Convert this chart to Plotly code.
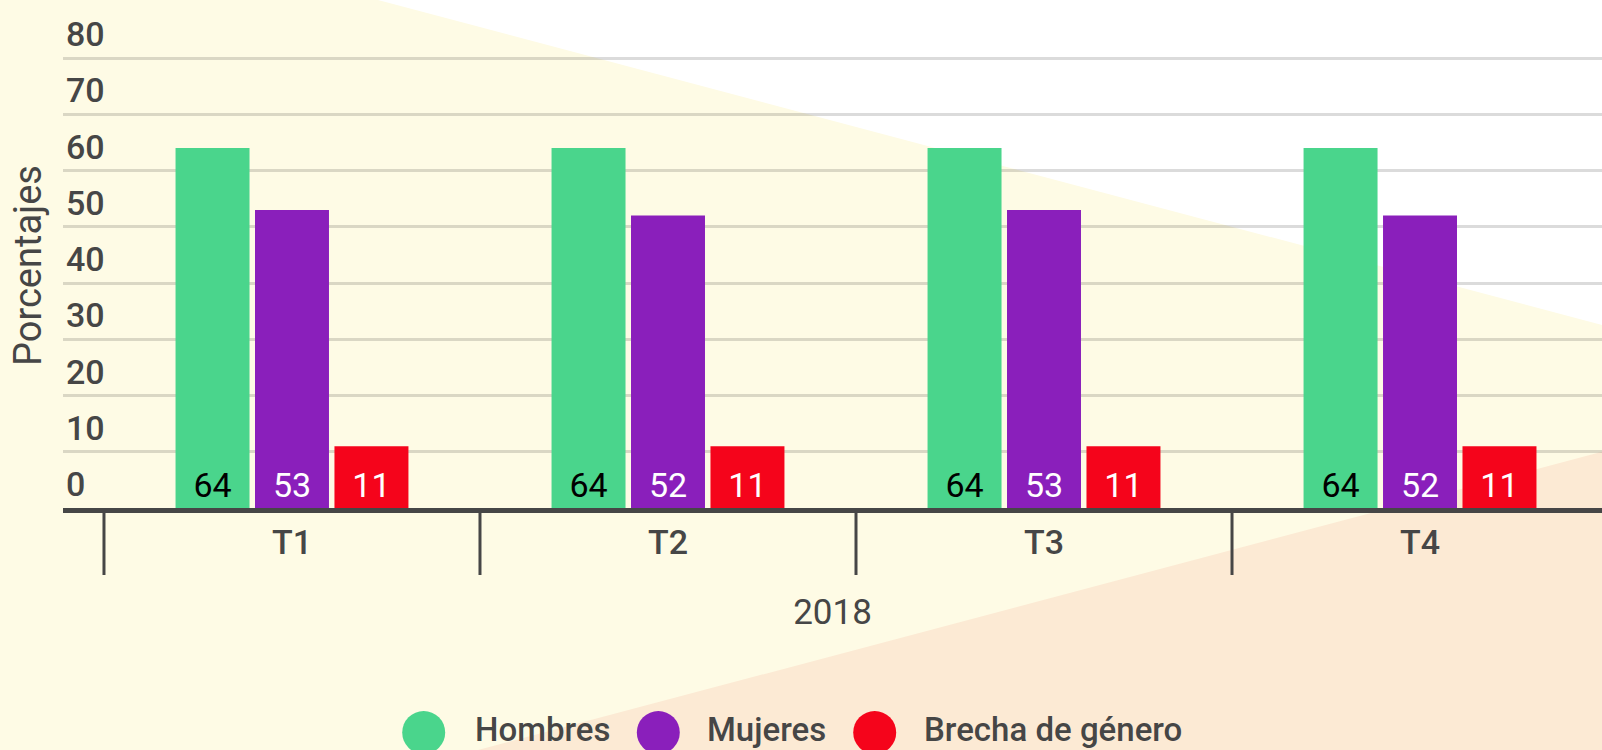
import plotly.graph_objects as go

# ---- data ----
categories = ["T1", "T2", "T3", "T4"]
year_label = "2018"
series_names = ["Hombres", "Mujeres", "Brecha de género"]
hombres = [64, 64, 64, 64]
mujeres = [53, 52, 53, 52]
brecha = [11, 11, 11, 11]
y_ticks = [0, 10, 20, 30, 40, 50, 60, 70, 80]
y_title = "Porcentajes"

# ---- styles ----
W, H = 1602, 750
colors = ["#4ad58c", "#8a1fbb", "#f5041b"]
label_colors = ["#000000", "#ffffff", "#ffffff"]
txt = "#464646"
bg_yellow = "#fefbe5"
bg_peach = "#fcead4"
FONT = "Roboto"
Y_TOP = 81           # axis range top
PX_PER_UNIT = 5.625  # pixels per y unit
Y0_PX = 508          # pixel row of y=0


def px(x):
    return x / W


def py(y):
    return 1 - y / H


fig = go.Figure()
for name, vals, c, lc in zip(series_names, [hombres, mujeres, brecha], colors, label_colors):
    fig.add_trace(go.Bar(
        x=categories, y=vals, name=name, marker_color=c, marker_line_width=0,
        text=vals, texttemplate="%{text}", textposition="inside",
        insidetextanchor="start", constraintext="none",
        textfont=dict(family=FONT, size=34, color=lc),
        showlegend=False, hoverinfo="x+y+name",
    ))

shapes = [
    # background regions
    dict(type="path", xref="paper", yref="paper", layer="below", line_width=0,
         fillcolor="#ffffff",
         path=f"M {px(378)} {py(0)} L {px(1602)} {py(0)} L {px(1602)} {py(325)} Z"),
    dict(type="path", xref="paper", yref="paper", layer="below", line_width=0,
         fillcolor=bg_peach,
         path=f"M {px(478)} {py(750)} L {px(1602)} {py(451.7)} L {px(1602)} {py(750)} Z"),
]
# category dividers
for i in range(len(categories) + 1):
    shapes.append(dict(type="line", xref="x", yref="paper",
                       x0=i - 0.5, x1=i - 0.5, y0=py(513), y1=py(575),
                       line=dict(color=txt, width=3)))

annotations = [
    dict(text=y_title, xref="paper", yref="paper", x=px(28), y=py(266),
         xanchor="center", yanchor="middle", textangle=-90, showarrow=False,
         font=dict(family=FONT, size=38, color=txt)),
]
# manual legend
legend_circles = [423.7, 658.3, 874.7]
legend_texts = [474, 706, 922.7]
for name, c, cx, tx in zip(series_names, colors, legend_circles, legend_texts):
    shapes.append(dict(type="circle", xref="paper", yref="paper", line_width=0,
                       fillcolor=c, x0=px(cx - 21.5), x1=px(cx + 21.5),
                       y0=py(732.5 + 21.5), y1=py(732.5 - 21.5)))
    annotations.append(dict(text=name, xref="paper", yref="paper", x=px(tx - 1), y=py(729),
                            xanchor="left", yanchor="middle", showarrow=False,
                            font=dict(family=FONT, size=33, color=txt, weight=500)))

fig.update_layout(
    width=W, height=H, autosize=False,
    margin=dict(l=0, r=0, t=0, b=0, autoexpand=False),
    paper_bgcolor=bg_yellow, plot_bgcolor="rgba(0,0,0,0)",
    barmode="group", bargap=0.366, bargroupgap=0.069,
    showlegend=False,
    shapes=shapes, annotations=annotations,
    font=dict(family=FONT, color=txt),
    xaxis=dict(
        domain=[px(63), 1], range=[-0.609, 3.484], type="category", automargin=False,
        showgrid=False, zeroline=False, showline=True, linewidth=5, linecolor=txt,
        ticks="", tickfont=dict(family=FONT, size=34, color=txt, weight=500),
        title=dict(text=year_label, font=dict(family=FONT, size=35, color=txt), standoff=40),
    ),
    yaxis=dict(
        domain=[py(Y0_PX), py(Y0_PX - Y_TOP * PX_PER_UNIT)], range=[0, Y_TOP], tickvals=y_ticks,
        automargin=False,
        ticklabelposition="inside top", ticklabeloverflow="allow", showgrid=True,
        gridcolor="rgba(0,0,0,0.14)", gridwidth=2.5, zeroline=False, showline=False,
        ticks="", tickfont=dict(family=FONT, size=34, color=txt, weight=500),
    ),
)

fig.write_html("out.html", config={"displayModeBar": False},
               post_script="document.body.style.margin='0';document.body.style.overflow='hidden';")
